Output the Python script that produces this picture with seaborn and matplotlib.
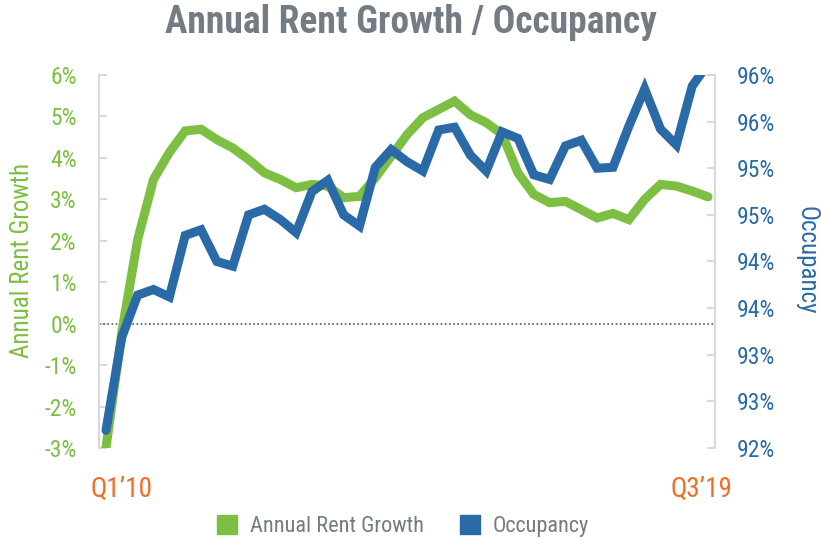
import matplotlib
matplotlib.use("Agg")
import matplotlib.pyplot as plt
from matplotlib import font_manager
import seaborn as sns
import pandas as pd
import numpy as np
from matplotlib.patches import Patch
from matplotlib.ticker import FuncFormatter, FixedLocator

quarters = list(range(39))
x_labels = ["Q1\u2019" + "10", "Q3\u2019" + "19"]
rent_growth = [-3.0, -0.2, 2.03, 3.48, 4.13, 4.65, 4.69, 4.44, 4.24, 3.96,
               3.64, 3.48, 3.28, 3.36, 3.32, 3.04, 3.07, 3.52, 4.04, 4.56,
               4.97, 5.17, 5.37, 5.04, 4.85, 4.57, 3.64, 3.12, 2.92, 2.95,
               2.75, 2.55, 2.66, 2.51, 3.0, 3.36, 3.32, 3.2, 3.06]
occupancy = [92.19, 93.19, 93.64, 93.70, 93.62, 94.28, 94.34, 94.0, 93.95, 94.50,
             94.56, 94.45, 94.31, 94.75, 94.87, 94.50, 94.38, 95.01, 95.20, 95.07,
             94.97, 95.41, 95.44, 95.14, 94.97, 95.39, 95.32, 94.93, 94.88, 95.24,
             95.30, 95.0, 95.01, 95.45, 95.85, 95.42, 95.25, 95.88, 96.12]
left_ticks = [-3, -2, -1, 0, 1, 2, 3, 4, 5, 6]
right_ticks = [92.0, 92.5, 93.0, 93.5, 94.0, 94.5, 95.0, 95.5, 96.0]

GREEN = "#7dbf42"
BLUE = "#2a6aa6"
ORANGE = "#f26c22"
GRAY = "#737c84"
AXGRAY = "#d9d9d9"

sns.set_style("white")

font_name = "DejaVu Sans"
for cand in ["Roboto Condensed", "Liberation Sans Narrow", "Liberation Sans"]:
    try:
        font_manager.findfont(font_manager.FontProperties(family=cand),
                              fallback_to_default=False)
        font_name = cand
        break
    except Exception:
        continue
plt.rcParams['font.family'] = [font_name, 'DejaVu Sans']

df = pd.DataFrame({"q": quarters, "rent": rent_growth, "occ": occupancy})

fig = plt.figure(figsize=(8.21, 5.39), dpi=100)
ax = fig.add_axes([0.1206, 0.1688, 0.7503, 0.6921])
ax2 = ax.twinx()

ax.axhline(0, color="#555555", lw=1.2, ls=(0, (1, 1.5)), zorder=1)

sns.lineplot(data=df, x="q", y="rent", ax=ax, color=GREEN, lw=6.5, zorder=3,
             solid_joinstyle="miter")
sns.lineplot(data=df, x="q", y="occ", ax=ax2, color=BLUE, lw=6.5, zorder=3,
             solid_joinstyle="miter")

ax.set_xlim(-0.44, 38.44)
ax.set_ylim(-3, 6)
ax2.set_ylim(92, 96)

ax.yaxis.set_major_locator(FixedLocator(left_ticks))
ax.yaxis.set_major_formatter(FuncFormatter(lambda v, p: f"{int(round(v))}%"))
ax2.yaxis.set_major_locator(FixedLocator(right_ticks))
ax2.yaxis.set_major_formatter(FuncFormatter(lambda v, p: f"{int(np.floor(v + 0.5))}%"))

ax.set_xticks([])
ax.set_xlabel("")
ax2.set_xlabel("")

for a in (ax, ax2):
    for s in ("top", "bottom"):
        a.spines[s].set_visible(False)
ax.spines["right"].set_visible(False)
ax2.spines["left"].set_visible(False)
ax.spines["left"].set_color(AXGRAY)
ax.spines["left"].set_linewidth(1.5)
ax2.spines["right"].set_color(AXGRAY)
ax2.spines["right"].set_linewidth(1.5)

ax.tick_params(axis="y", direction="in", length=6, width=1.5, color=AXGRAY,
               labelcolor=GREEN, labelsize=17, pad=16)
ax2.tick_params(axis="y", direction="in", length=6, width=1.5, color=AXGRAY,
                labelcolor=BLUE, labelsize=17, pad=16)

ax.set_ylabel("Annual Rent Growth", color=GREEN, fontsize=18,
              ha="center", va="center", rotation=90, rotation_mode="default")
ax.yaxis.set_label_coords(-0.125, 0.504)
ax2.set_ylabel("Occupancy", color=BLUE, fontsize=18,
               ha="center", va="center", rotation=270, rotation_mode="default")
ax2.yaxis.set_label_coords(1.149, 0.504)

fig.text(0.5, 0.958, "Annual Rent Growth / Occupancy", ha="center", va="center",
         fontsize=27, fontweight="bold", color=GRAY)

fig.text(121 / 821, 1 - 489 / 539, x_labels[0], ha="center", va="center",
         color=ORANGE, fontsize=19.5)
fig.text(701 / 821, 1 - 489 / 539, x_labels[1], ha="center", va="center",
         color=ORANGE, fontsize=19.5)

handles = [Patch(facecolor=GREEN, edgecolor=GREEN, label="Annual Rent Growth"),
           Patch(facecolor=BLUE, edgecolor=BLUE, label="Occupancy")]
leg = fig.legend(handles=handles, loc="center", bbox_to_anchor=(0.491, 0.024),
                 ncol=2, frameon=False, fontsize=16, handlelength=0.9,
                 handleheight=0.9, handletextpad=0.6, columnspacing=1.6)
for t in leg.get_texts():
    t.set_color(GRAY)

fig.savefig("out.png", dpi=100)
